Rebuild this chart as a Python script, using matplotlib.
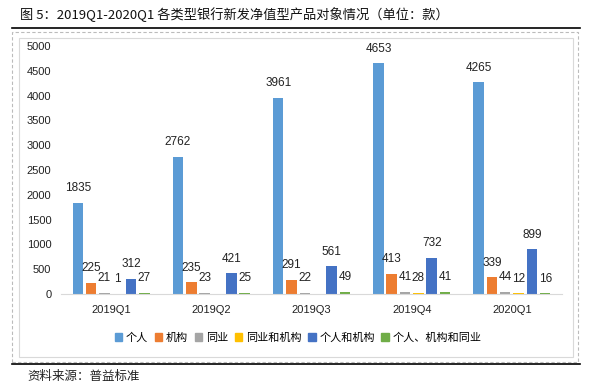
import numpy as np
import matplotlib
matplotlib.use("Agg")
import matplotlib.pyplot as plt
from matplotlib.patches import Rectangle
from matplotlib.lines import Line2D

plt.rcParams['font.family'] = ['Noto Sans CJK SC', 'DejaVu Sans']

# 数据
quarters = ['2019Q1', '2019Q2', '2019Q3', '2019Q4', '2020Q1']
series_names = ['个人', '机构', '同业', '同业和机构', '个人和机构', '个人、机构和同业']
geren = [1835, 2762, 3961, 4653, 4265]
jigou = [225, 235, 291, 413, 339]
tongye = [21, 23, 22, 41, 44]
tongye_jigou = [1, np.nan, np.nan, 28, 12]
geren_jigou = [312, 421, 561, 732, 899]
geren_jigou_tongye = [27, 25, 49, 41, 16]
colors = ['#5B9BD5', '#ED7D31', '#A5A5A5', '#FFC000', '#4472C4', '#70AD47']

W, H = 595, 385
fig = plt.figure(figsize=(W / 100, H / 100), dpi=100)


def fx(px):
    return px / W


def fy(py):
    return 1 - py / H


# 标题和边框
fig.text(fx(20), fy(15), '图 5：2019Q1-2020Q1 各类型银行新发净值型产品对象情况（单位：款）',
         fontsize=9.5, fontweight='medium', va='center', ha='left', color='#111111')
fig.add_artist(Line2D([fx(12), fx(580)], [fy(28), fy(28)], color='black', lw=1.2))
fig.add_artist(Rectangle((fx(12), fy(362)), fx(578) - fx(12), fy(32) - fy(362),
                         fill=False, ec='#BBBBBB', lw=0.8, ls=(0, (3, 2))))
fig.add_artist(Rectangle((fx(19), fy(357)), fx(573) - fx(19), fy(38) - fy(357),
                         fill=False, ec='#D9D9D9', lw=0.8))
fig.add_artist(Line2D([fx(12), fx(580)], [fy(364), fy(364)], color='black', lw=1.2))
fig.text(fx(27), fy(376), '资料来源：普益标准', fontsize=9, va='center', ha='left', color='#222222')

# 主图
ax = fig.add_axes([fx(61), fy(294), fx(562) - fx(61), fy(46) - fy(294)])
data = [geren, jigou, tongye, tongye_jigou, geren_jigou, geren_jigou_tongye]
x = np.arange(len(quarters))
step = 0.133
width = 0.105
for i, (vals, name, c) in enumerate(zip(data, series_names, colors)):
    pos = x + (i - 2.5) * step
    vals = np.array(vals, dtype=float)
    ax.bar(pos, np.nan_to_num(vals), width=width, color=c, label=name)
    for p, v in zip(pos, vals):
        if not np.isnan(v):
            ax.annotate(f'{int(v)}', (p, v), xytext=(0, 10.5), textcoords='offset points',
                        ha='center', va='center', fontsize=8.5, color='#222222',
                        family=['Liberation Sans'])

ax.set_xlim(-0.5, len(quarters) - 0.5)
ax.set_ylim(0, 5000)
ax.set_yticks(np.arange(0, 5001, 500))
ax.set_xticks(x)
ax.set_xticklabels(quarters)
for s in ['top', 'right', 'left']:
    ax.spines[s].set_visible(False)
ax.spines['bottom'].set_color('#D9D9D9')
ax.tick_params(axis='both', length=0, labelsize=8, colors='#222222')
ax.tick_params(axis='y', pad=7)
ax.tick_params(axis='x', pad=8)
for lab in ax.get_xticklabels() + ax.get_yticklabels():
    lab.set_family(['Liberation Sans'])

handles = [Rectangle((0, 0), 1, 1, color=c) for c in colors]
fig.legend(handles, series_names, loc='center', bbox_to_anchor=(fx(298), fy(338)),
           ncol=6, frameon=False, fontsize=8, handlelength=0.7, handleheight=0.7,
           handletextpad=0.3, columnspacing=0.6)

fig.savefig('out.png', dpi=100)
